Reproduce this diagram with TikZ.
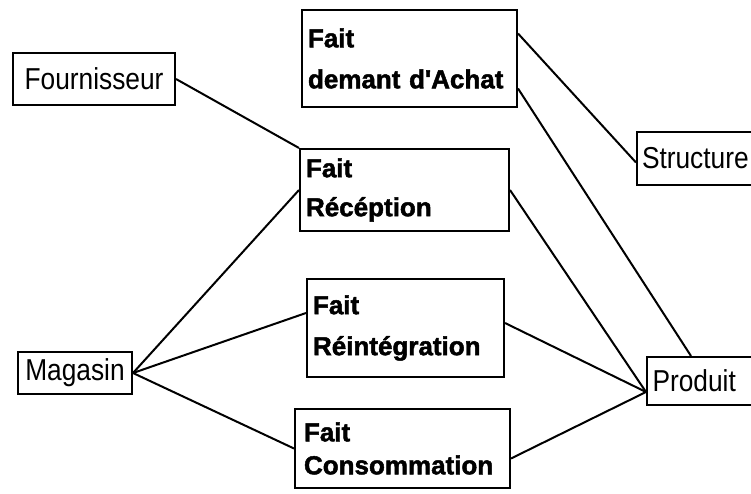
\documentclass[tikz,border=0pt]{standalone}
\usepackage{fontspec}
\setmainfont{Liberation Sans}
\newfontfamily\heavyfont[BoldFeatures={FakeBold=1.8}]{Liberation Sans}
\newcommand{\tall}[1]{\scalebox{1}[1.15]{#1}}
\begin{document}
\begin{tikzpicture}[x=1pt,y=-1pt,
  box/.style={draw, line width=2pt, rectangle, inner sep=0pt},
  ent/.style={box, font=\fontsize{26.3}{30}\selectfont},
  fait/.style={box, align=left, font=\fontsize{26}{41}\heavyfont\bfseries\selectfont},
  link/.style={line width=2pt}]
\useasboundingbox (0,0) rectangle (751,494);
\clip (0,0) rectangle (751,494);

% fact tables
\node[fait, minimum width=215pt, minimum height=97pt, text width=203pt] (ach) at (409.5,58.5) {Fait\\demant d'Achat};
\node[fait, minimum width=209pt, minimum height=82pt, text width=197pt] (rec) at (404.5,190) {Fait\\[-2pt]Récéption};
\node[fait, minimum width=197pt, minimum height=98pt, text width=185pt] (rei) at (405.5,328) {Fait\\Réintégration};
\node[fait, minimum width=215pt, minimum height=79pt, text width=197pt] (cons) at (402.5,448.5) {Fait\\[-8pt]Consommation};

% dimension tables
\node[ent, minimum width=162pt, minimum height=52pt] (four) at (94,79) {\tall{Fournisseur}};
\node[ent, minimum width=114pt, minimum height=42pt] (mag) at (75,373) {\tall{Magasin}};
\node[ent, align=left, minimum width=123pt, minimum height=53pt, text width=113pt] (str) at (698.5,158.5) {\tall{Structure}};
\node[ent, align=left, minimum width=113pt, minimum height=48pt, text width=102pt] (prod) at (703.5,381) {\tall{Produit}};

% links
\draw[link] (four.east) -- (rec.north west);
\draw[link] (mag.east) -- (rec.west);
\draw[link] (mag.east) -- ([yshift=15pt]rei.west);
\draw[link] (mag.east) -- (cons.west);
\draw[link] ([yshift=25pt]ach.east) -- ([yshift=-4pt]str.west);
\draw[link] ([yshift=-30pt]ach.east) -- ([xshift=45pt]prod.north west);
\draw[link] (rec.east) -- ([yshift=-11pt]prod.west);
\draw[link] ([yshift=5pt]rei.east) -- ([yshift=-11pt]prod.west);
\draw[link] ([yshift=-10pt]cons.east) -- ([yshift=-11pt]prod.west);
\end{tikzpicture}
\end{document}
